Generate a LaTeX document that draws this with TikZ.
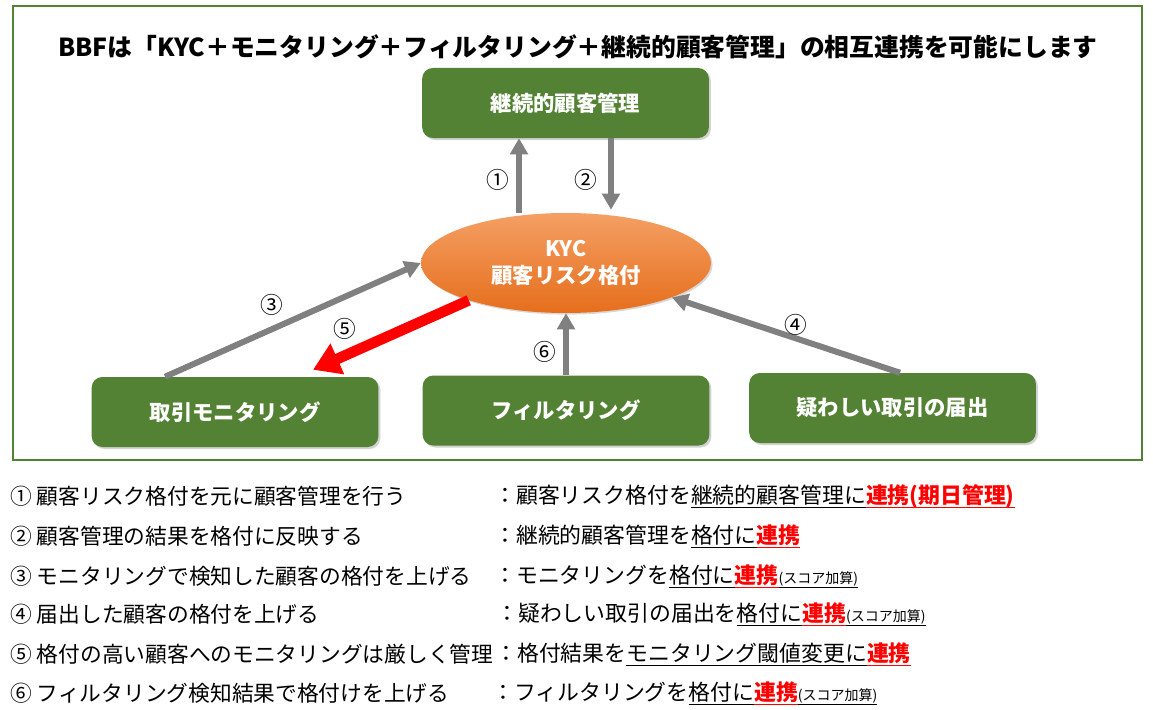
\documentclass[tikz,border=0pt]{standalone}
\usepackage{fontspec}
\setmainfont{Noto Sans CJK JP}
\usetikzlibrary{arrows.meta,shadows,calc,shapes.geometric}
\definecolor{gfill}{RGB}{84,130,53}
\definecolor{garr}{RGB}{128,128,128}
\definecolor{rarr}{RGB}{255,0,0}
\definecolor{olight}{RGB}{244,160,100}
\definecolor{odark}{RGB}{230,110,28}
\newcommand\myul[1]{\leavevmode\setbox0\hbox{#1}\rlap{\copy0}\vrule width\wd0 height -2.7pt depth 3.3pt\relax}
\newcommand\redlink[1]{\textcolor{rarr}{\bfseries\myul{#1}}}
\newcommand\smallnote[1]{{\fontsize{10.5}{12}\selectfont\myul{#1}}}
\begin{document}
\begin{tikzpicture}[x=0.75pt,y=-0.75pt,
  greenbox/.style={rounded corners=8pt, fill=gfill, text=white,
    font=\fontsize{16}{19}\selectfont\bfseries, minimum width=215pt, minimum height=52.5pt,
    drop shadow={opacity=0.35,shadow xshift=1.5pt,shadow yshift=-1.5pt}},
  kycshape/.style={ellipse, inner sep=0pt, minimum width=217.5pt, minimum height=75pt,
    top color=olight, bottom color=odark, draw=none, text=white, align=center,
    font=\fontsize{16}{20}\selectfont\bfseries,
    drop shadow={opacity=0.3,shadow xshift=1.2pt,shadow yshift=-1.2pt}},
  garrow/.style={draw=garr, line width=4.5pt, -{Triangle[width=13pt,length=12pt]}},
  rarrow/.style={draw=rarr, line width=8pt, -{Triangle[width=24pt,length=20pt]}},
  numlab/.style={font=\fontsize{17}{20}\selectfont, inner sep=1pt},
  legl/.style={anchor=west, font=\fontsize{16.3}{19}\selectfont, inner sep=0pt},
  legr/.style={anchor=west, font=\fontsize{16.4}{19}\selectfont, inner sep=0pt}
]
\useasboundingbox[fill=white] (0,0) rectangle (1153,710);
\draw[gfill, line width=1.6pt] (13,6) rectangle (1142,460);

\node[font=\fontsize{18.6}{22}\selectfont\bfseries] (title) at (578,47)
  {BBFは「KYC＋モニタリング＋フィルタリング＋継続的顧客管理」の相互連携を可能にします};

\node[greenbox] (top) at (565.5,103) {継続的顧客管理};
\node[kycshape] (kyc) at (566,263) {KYC\\顧客リスク格付};
\node[greenbox] (mon) at (235,412) {取引モニタリング};
\node[greenbox] (fil) at (566,410.5) {フィルタリング};
\node[greenbox] (sus) at (892.5,408) {疑わしい取引の届出};

\draw[garrow] ($(kyc.north)+(-47,0)$) -- ($(top.south)+(-46.5,0)$);
\draw[garrow] ($(top.south)+(45.5,0)$) -- ($(kyc.north)+(45,-3)$);
\draw[garrow] ($(mon.north)+(-70,0)$) -- (kyc.west);
\draw[garrow] ($(sus.north)+(7.5,0)$) -- (kyc.-18);
\draw[garrow] (fil.north) -- (kyc.south);
\coordinate (rtip) at ($(mon.north)+(78,-7)$);
\draw[rarrow] (kyc.201) -- (rtip);

\node[numlab] (n1) at (498,180) {①};
\node[numlab] (n2) at (586,180) {②};
\node[numlab] (n3) at (272,305) {③};
\node[numlab] (n4) at (796,325) {④};
\node[numlab] (n5) at (345,329) {⑤};
\node[numlab] (n6) at (545,352) {⑥};

\node[legl] (l1) at (10,496) {① 顧客リスク格付を元に顧客管理を行う};
\node[legl] (l2) at (10,536) {② 顧客管理の結果を格付に反映する};
\node[legl] (l3) at (10,576) {③ モニタリングで検知した顧客の格付を上げる};
\node[legl] (l4) at (10,614) {④ 届出した顧客の格付を上げる};
\node[legl] (l5) at (10,654) {⑤ 格付の高い顧客へのモニタリングは厳しく管理};
\node[legl] (l6) at (10,693) {⑥ フィルタリング検知結果で格付けを上げる};

\node[legr] (r1) at (494,496) {：顧客リスク格付を\myul{継続的顧客管理に}\redlink{連携(期日管理)}};
\node[legr] (r2) at (494,536) {：継続的顧客管理を\myul{格付に}\redlink{連携}};
\node[legr] (r3) at (494,576) {：モニタリングを\myul{格付に}\redlink{連携}\smallnote{(スコア加算)}};
\node[legr] (r4) at (496,614) {：疑わしい取引の届出を\myul{格付に}\redlink{連携}\smallnote{(スコア加算)}};
\node[legr] (r5) at (495,654) {：格付結果を\myul{モニタリング閾値変更に}\redlink{連携}};
\node[legr] (r6) at (492,693) {：フィルタリングを\myul{格付に}\redlink{連携}\smallnote{(スコア加算)}};
\end{tikzpicture}
\end{document}
